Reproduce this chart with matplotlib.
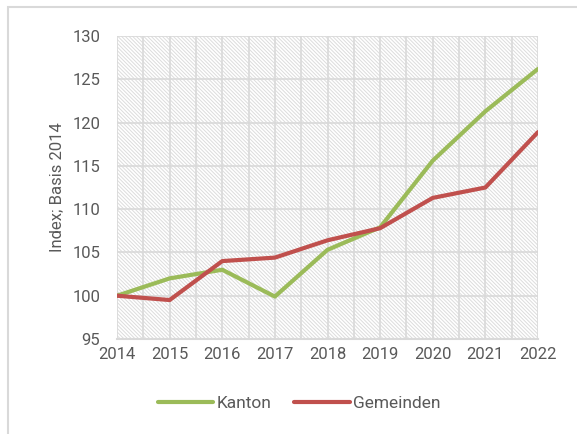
import matplotlib

matplotlib.use("Agg")
import matplotlib.pyplot as plt
from matplotlib.patches import Rectangle

# Werte (Index, Basis 2014 = 100)
jahre = [2014, 2015, 2016, 2017, 2018, 2019, 2020, 2021, 2022]
kanton = [100.0, 102.0, 103.0, 99.9, 105.3, 107.9, 115.6, 121.3, 126.2]
gemeinden = [100.0, 99.5, 104.0, 104.4, 106.4, 107.8, 111.3, 112.5, 118.9]
y_ticks = [95, 100, 105, 110, 115, 120, 125, 130]

GRAU_TEXT = "#595959"
GRAU_LINIE = "#d9d9d9"
GRUEN = "#9bbb59"
ROT = "#c0504d"

plt.rcParams["font.family"] = ["Roboto", "DejaVu Sans"]
plt.rcParams["hatch.color"] = "#dcdcdc"
plt.rcParams["hatch.linewidth"] = 0.7

fig = plt.figure(figsize=(5.77, 4.34), dpi=100)
ax = fig.add_axes([117 / 577, 95 / 434, 421 / 577, 303 / 434])

# Rahmen um das Diagramm (rechts/unten abgeschnitten)
fig.patches.append(Rectangle((8 / 577, -0.05), 1.2, 1 - 7 / 434 + 0.05,
                             transform=fig.transFigure, fill=False,
                             edgecolor=GRAU_LINIE, linewidth=1.5, zorder=0))

# schraffierter Hintergrund der Zeichenfläche
ax.add_patch(Rectangle((0, 0), 1, 1, transform=ax.transAxes, facecolor="white",
                       hatch="\\" * 9, edgecolor="#dcdcdc", linewidth=0, zorder=0))

ax.plot(jahre, kanton, color=GRUEN, lw=3, label="Kanton", zorder=3,
        solid_capstyle="round")
ax.plot(jahre, gemeinden, color=ROT, lw=3, label="Gemeinden", zorder=3,
        solid_capstyle="round")

ax.set_xlim(jahre[0], jahre[-1])
ax.set_ylim(y_ticks[0], y_ticks[-1])
ax.set_xticks(jahre)
ax.set_xticks([j + 0.5 for j in jahre[:-1]], minor=True)
ax.set_yticks(y_ticks)
ax.grid(True, which="both", axis="x", color=GRAU_LINIE, lw=1.2, zorder=1)
ax.grid(True, which="major", axis="y", color=GRAU_LINIE, lw=1.2, zorder=1)
ax.set_axisbelow(True)

for s in ["top", "right", "left"]:
    ax.spines[s].set_visible(False)
ax.spines["bottom"].set_color(GRAU_LINIE)
ax.spines["bottom"].set_linewidth(1.5)

ax.tick_params(which="both", length=0, labelsize=12, colors=GRAU_TEXT)
ax.tick_params(axis="x", pad=6)
ax.tick_params(axis="y", pad=12)
ax.set_ylabel("Index; Basis 2014", fontsize=12, color=GRAU_TEXT, labelpad=6)

fig.legend(loc="center", bbox_to_anchor=(299 / 577, 31 / 434), ncol=2,
           frameon=False, fontsize=12.5, handlelength=3.2, handletextpad=0.2,
           columnspacing=1.3, labelcolor=GRAU_TEXT)

fig.savefig("out.png", dpi=100)
